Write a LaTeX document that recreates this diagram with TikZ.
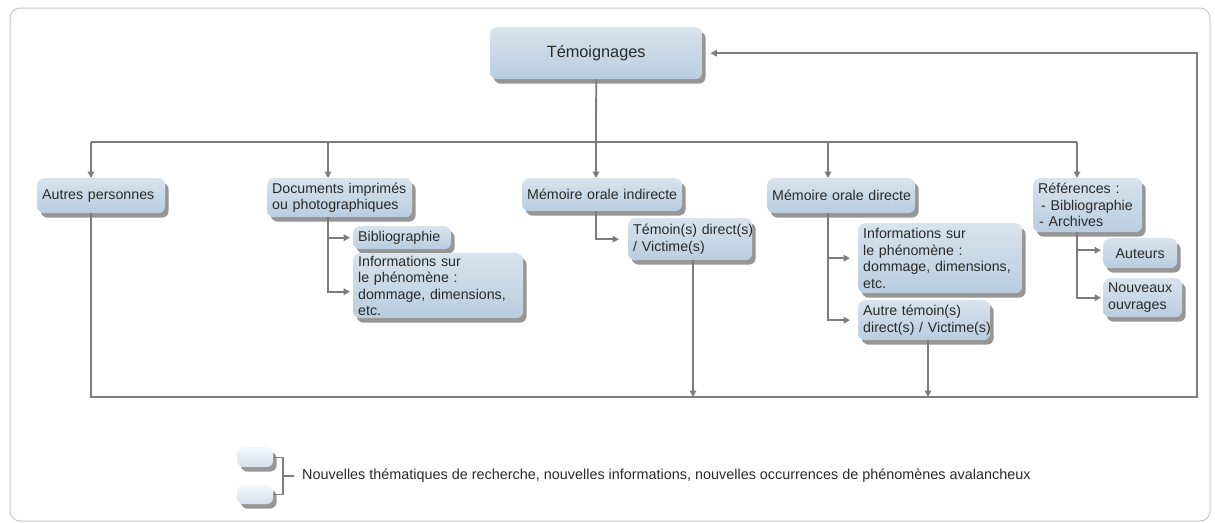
\documentclass[tikz,border=0pt]{standalone}
\usepackage{fontspec}
\setmainfont{Liberation Sans}
\usetikzlibrary{shadows,arrows.meta}
\definecolor{boxtop}{HTML}{D8E3ED}
\definecolor{boxbot}{HTML}{B9CDDF}
\definecolor{legtop}{HTML}{F4F7FA}
\definecolor{legbot}{HTML}{D3DFEA}
\definecolor{lncol}{HTML}{7C7C7C}
\definecolor{txt}{HTML}{2A2A2A}
\tikzset{
 bx/.style={rounded corners=7pt, top color=boxtop, bottom color=boxbot,
   drop shadow={shadow xshift=3.5pt,shadow yshift=-4.5pt,opacity=0.55,fill=black!75},
   text=txt, font=\fontsize{14.2}{16.5}\selectfont, inner xsep=5pt, inner ysep=2pt,
   align=left, anchor=north west},
 legbx/.style={bx, top color=legtop, bottom color=legbot},
 conn/.style={draw=lncol, line width=1.8pt},
 arr/.style={conn, -{Triangle[length=6.5pt,width=6.5pt]}},
}
\begin{document}
\begin{tikzpicture}[x=1pt,y=-1pt]
\useasboundingbox (0,0) rectangle (1215,522);
\fill[white] (0,0) rectangle (1215,522);
\draw[black!22, line width=1pt, rounded corners=10pt] (10,8) rectangle (1210,521);

% boxes
\node[bx, text width=202pt, minimum height=52pt, align=center, font=\fontsize{16.3}{19}\selectfont] (tem) at (490,27) {Témoignages};
\node[bx, text width=118pt, minimum height=35pt] (autres) at (37,178) {Autres personnes};
\node[bx, text width=135pt, minimum height=39pt] (docs) at (267,178) {\mbox{Documents imprimés}\\\mbox{ou photographiques}};
\node[bx, text width=88pt, minimum height=23pt] (bib) at (353,226) {Bibliographie};
\node[bx, text width=160pt, minimum height=65pt] (info1) at (353,253) {Informations sur\\le phénomène :\\\mbox{dommage, dimensions,}\\etc.};
\node[bx, text width=150pt, minimum height=33pt] (ind) at (522,178) {\mbox{Mémoire orale indirecte}};
\node[bx, text width=114pt, minimum height=42pt] (temv) at (628,218) {\mbox{Témoin(s) direct(s)}\\/ Victime(s)};
\node[bx, text width=138pt, minimum height=35pt] (dir) at (767,178) {\mbox{Mémoire orale directe}};
\node[bx, text width=154pt, minimum height=70pt] (info2) at (858,223) {Informations sur\\le phénomène :\\\mbox{dommage, dimensions,}\\etc.};
\node[bx, text width=122pt, minimum height=40pt] (autre) at (858,300) {Autre témoin(s)\\\mbox{direct(s) / Victime(s)}};
\node[bx, text width=99pt, minimum height=54pt] (ref) at (1033,178) {Références :\\\hspace*{3pt}- Bibliographie\\\hspace*{1pt}- Archives};
\node[bx, text width=64pt, minimum height=30pt, align=center] (aut) at (1103,238) {Auteurs};
\node[bx, text width=69pt, minimum height=39pt] (nouv) at (1103,278) {Nouveaux\\ouvrages};

% legend
\node[legbx, minimum width=36pt, minimum height=20pt, inner sep=0pt] (leg1) at (237,447) {};
\node[legbx, minimum width=36pt, minimum height=19pt, inner sep=0pt] (leg2) at (237,485) {};
\node[anchor=west, inner sep=0pt, text=txt, font=\fontsize{14.4}{16}\selectfont] (legtxt) at (302,476) {Nouvelles thématiques de recherche, nouvelles informations, nouvelles occurrences de phénomènes avalancheux};
\coordinate (brk) at (283,476);
\coordinate (dash) at (294,476);
\draw[conn, line width=1.2pt] (leg1.east) -| (brk) |- (leg2.east);
\draw[conn, line width=1.2pt] (brk) -- (dash);

% bus coordinates
\coordinate (d1) at (91,142);
\coordinate (d2) at (328,142);
\coordinate (d3) at (596,142);
\coordinate (d4) at (828,142);
\coordinate (d5) at (1077,142);
\coordinate (bl) at (91,397);
\coordinate (br) at (1197,397);
\coordinate (v1) at (693,397);
\coordinate (v2) at (928,397);

\draw[conn] (tem.south) -- (d3);
\draw[conn] (d1) -- (d5);
\draw[arr] (d1) -- (d1 |- autres.north);
\draw[arr] (d2) -- (d2 |- docs.north);
\draw[arr] (d3) -- (d3 |- ind.north);
\draw[arr] (d4) -- (d4 |- dir.north);
\draw[arr] (d5) -- (d5 |- ref.north);

% feedback loop
\draw[arr, shorten >=8pt] (d1 |- autres.south) -- (bl) -- (br) |- (tem.east);

% sub-branches
\draw[arr, shorten >=3pt] (d2 |- docs.south) |- (bib.west);
\draw[arr, shorten >=3pt] (d2 |- docs.south) |- ([yshift=-6pt]info1.west);
\draw[arr, shorten >=9pt] (d3 |- ind.south) |- (temv.west);
\draw[arr] (v1 |- temv.south) -- (v1);
\draw[arr, shorten >=8pt] (d4 |- dir.south) |- (info2.west);
\draw[arr, shorten >=8pt] (d4 |- dir.south) |- (autre.west);
\draw[arr] (v2 |- autre.south) -- (v2);
\draw[arr, shorten >=2pt] (d5 |- ref.south) |- ([yshift=3pt]aut.west);
\draw[arr, shorten >=2pt] (d5 |- ref.south) |- (nouv.west);
\end{tikzpicture}
\end{document}
